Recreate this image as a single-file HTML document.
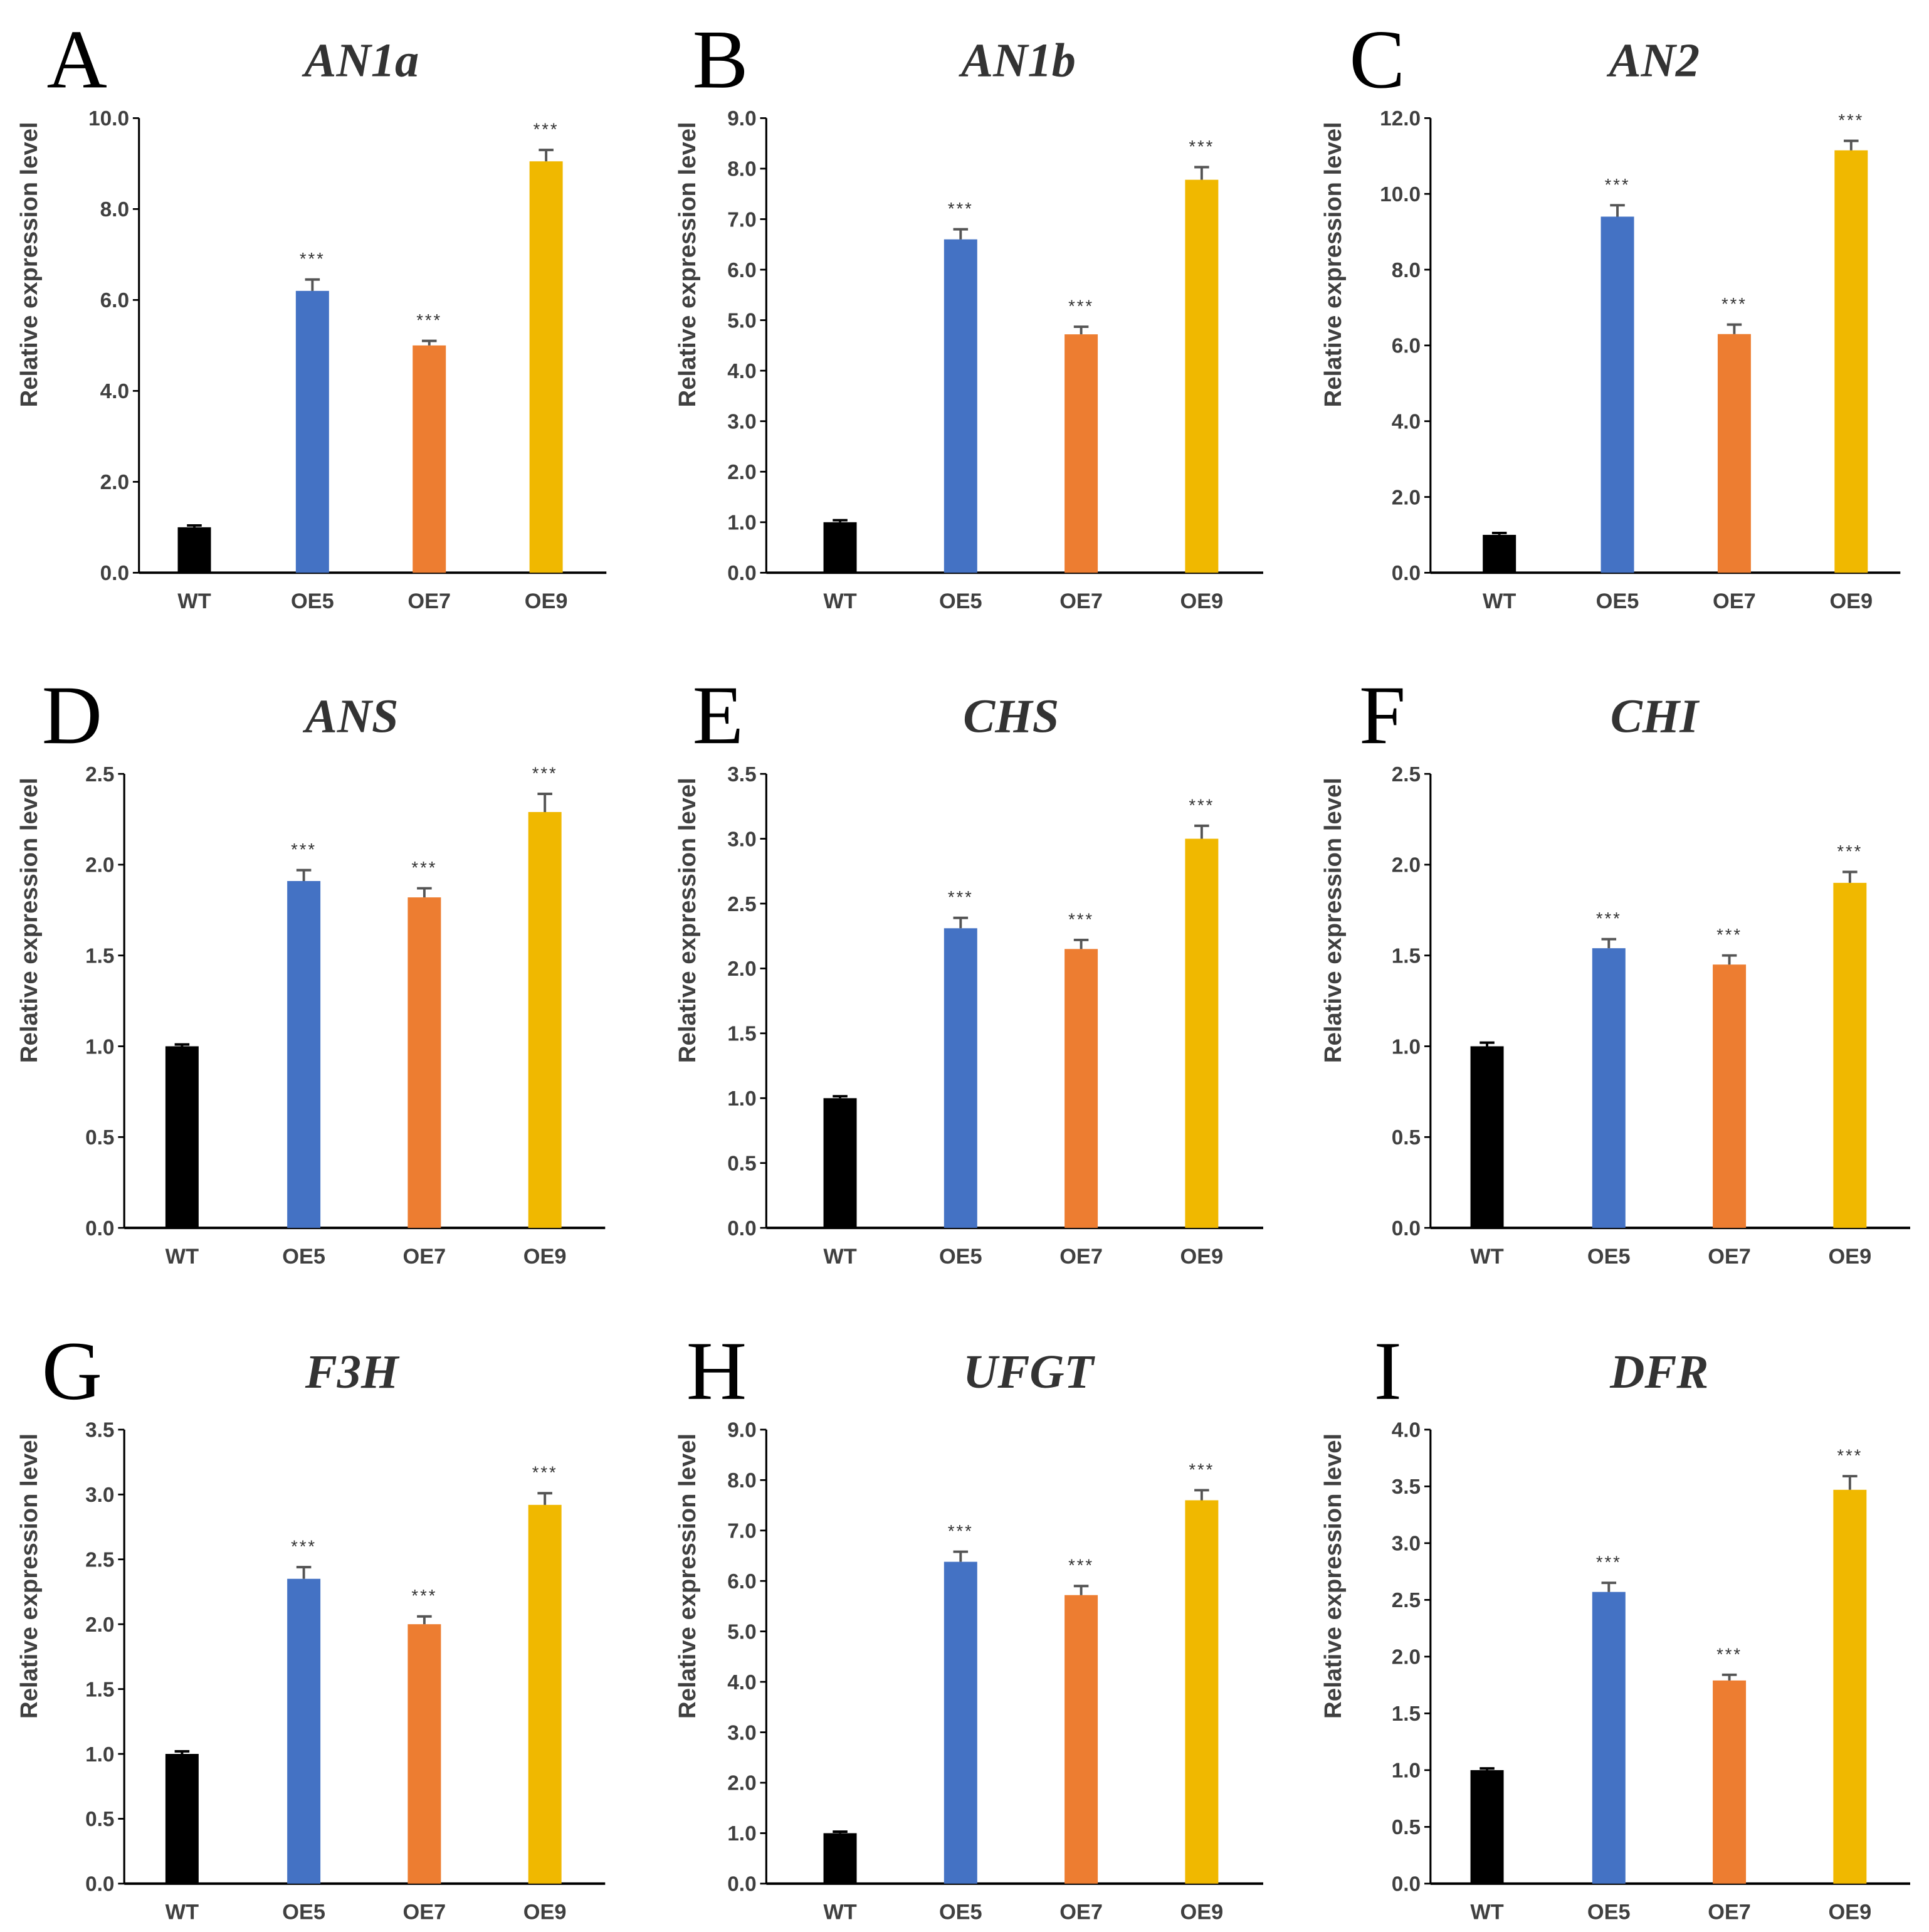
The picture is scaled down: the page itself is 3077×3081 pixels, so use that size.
<!DOCTYPE html>
<html><head><meta charset="utf-8"><style>
html,body{margin:0;padding:0;background:#fff}
svg{display:block}
</style></head><body>
<svg id="fig" width="3077" height="3081" viewBox="0 0 1568.3 1570.3" xmlns="http://www.w3.org/2000/svg">
<rect width="1568.3" height="1570.3" fill="#fff"/>
</svg>
<script>
const categories = ["WT","OE5","OE7","OE9"];
const colors = ["#000000","#4472C4","#ED7D31","#F0B800"];
const panelLetters = ["A","B","C","D","E","F","G","H","I"];
const panelTitles = ["AN1a","AN1b","AN2","ANS","CHS","CHI","F3H","UFGT","DFR"];
const valuesA = [1.0, 6.2, 5.0, 9.05];
const errorsA = [0.04, 0.25, 0.1, 0.25];
const valuesB = [1.0, 6.6, 4.72, 7.78];
const errorsB = [0.04, 0.2, 0.15, 0.25];
const valuesC = [1.0, 9.4, 6.3, 11.15];
const errorsC = [0.05, 0.3, 0.25, 0.25];
const valuesD = [1.0, 1.91, 1.82, 2.29];
const errorsD = [0.01, 0.06, 0.05, 0.1];
const valuesE = [1.0, 2.31, 2.15, 3.0];
const errorsE = [0.015, 0.08, 0.07, 0.1];
const valuesF = [1.0, 1.54, 1.45, 1.9];
const errorsF = [0.02, 0.05, 0.05, 0.06];
const valuesG = [1.0, 2.35, 2.0, 2.92];
const errorsG = [0.02, 0.09, 0.06, 0.09];
const valuesH = [1.0, 6.38, 5.72, 7.6];
const errorsH = [0.03, 0.2, 0.18, 0.2];
const valuesI = [1.0, 2.57, 1.79, 3.47];
const errorsI = [0.015, 0.08, 0.05, 0.12];
const axisMax = [10, 9, 12, 2.5, 3.5, 2.5, 3.5, 9, 4];
const axisStep = [2, 1, 2, 0.5, 0.5, 0.5, 0.5, 1, 0.5];
const significance = ["", "***", "***", "***"];

const allValues = [valuesA,valuesB,valuesC,valuesD,valuesE,valuesF,valuesG,valuesH,valuesI];
const allErrors = [errorsA,errorsB,errorsC,errorsD,errorsE,errorsF,errorsG,errorsH,errorsI];

const rowTop = [96, 629, 1162];
const rowBase = [465.5, 998, 1531];
const colAxis = [[113,623,1163],[101,623,1163],[101,623,1163]];
const colRight = [[493,1027,1545],[492,1027,1553],[492,1027,1553]];
const barCenters = [
 [[158,254,349,444],[683,781,879,977],[1219,1315,1410,1505]],
 [[148,247,345,443],[683,781,879,977],[1209,1308,1406,1504]],
 [[148,247,345,443],[683,781,879,977],[1209,1308,1406,1504]]
];
const titleX = [[294,828,1345],[286,822,1345],[286,836,1349]];
const letterX = [[38,563,1097],[34,563,1105],[34,558,1117]];
const ylabX = [[25,560,1085],[25,560,1085],[25,560,1085]];

const NS = "http://www.w3.org/2000/svg";
const svg = document.getElementById("fig");
function mk(tag, attrs, parent){
  const e = document.createElementNS(NS, tag);
  for (const k in attrs) e.setAttribute(k, attrs[k]);
  (parent||svg).appendChild(e);
  return e;
}

for (let p = 0; p < 9; p++) {
  const r = Math.floor(p/3), c = p%3;
  const g = mk("g", {});
  
  
  const top = rowTop[r], base = rowBase[r];
  const ax = colAxis[r][c], right = colRight[r][c];
  const max = axisMax[p], step = axisStep[p];
  const y = v => base - (v/max)*(base-top);

  const L = mk("text", {x: letterX[r][c], y: top - 25, "font-family":"Liberation Serif, serif", "font-size":68, fill:"#000"}, g);
  L.textContent = panelLetters[p];
  
  

  const T = mk("text", {x: titleX[r][c], y: top - 34, "text-anchor":"middle", "font-family":"Liberation Serif, serif", "font-size":39, "font-style":"italic", "font-weight":"bold", fill:"#333"}, g);
  T.textContent = panelTitles[p];
  
  

  const yl = top + 119;
  const Y = mk("text", {x: ylabX[r][c], y: yl, transform:`rotate(-90 ${ylabX[r][c]} ${yl})`, "text-anchor":"middle", "dominant-baseline":"middle", "font-family":"Liberation Sans, sans-serif", "font-size":19.5, "font-weight":"bold", fill:"#404040"}, g);
  Y.textContent = "Relative expression level";
  
  

  const ya = mk("line", {x1:ax, y1:top, x2:ax, y2:base, stroke:"#000", "stroke-width":1.6}, g);
  
  
  const nT = Math.round(max/step);
  for (let i = 0; i <= nT; i++) {
    const v = i*step, ty = y(v);
    mk("line", {x1:ax-5, y1:ty, x2:ax, y2:ty, stroke:"#000", "stroke-width":1.4}, g);
    const t = mk("text", {x: ax-8, y: ty+6, "text-anchor":"end", "font-family":"Liberation Sans, sans-serif", "font-size":17, "font-weight":"bold", fill:"#404040"}, g);
    t.textContent = v.toFixed(1);
    
    
  }
  const xa = mk("line", {x1:ax, y1:base, x2:right, y2:base, stroke:"#000", "stroke-width":2}, g);
  
  

  const vals = allValues[p], errs = allErrors[p];
  for (let k = 0; k < categories.length; k++) {
    const cx = barCenters[r][c][k], w = 27;
    const by = y(vals[k]);
    const b = mk("rect", {x: cx-w/2, y: by, width: w, height: base-by, fill: colors[k]}, g);
    
    
    const ey = y(vals[k]+errs[k]);
    const eb = mk("path", {d:`M${cx} ${by} V${ey} M${cx-6} ${ey} H${cx+6}`, stroke: k===0?"#000":"#555", "stroke-width":2, fill:"none"}, g);
    
    
    if (significance[k]) {
      const s = mk("text", {x: cx, y: ey - 12, "text-anchor":"middle", "font-family":"Liberation Sans, sans-serif", "font-size":14, fill:"#333", "letter-spacing":"1.5"}, g);
      s.textContent = significance[k];
      
      
    }
    const xl = mk("text", {x: cx, y: base + 29, "text-anchor":"middle", "font-family":"Liberation Sans, sans-serif", "font-size":17.5, "font-weight":"bold", fill:"#404040"}, g);
    xl.textContent = categories[k];
    
    
  }
}
</script>
</body></html>
